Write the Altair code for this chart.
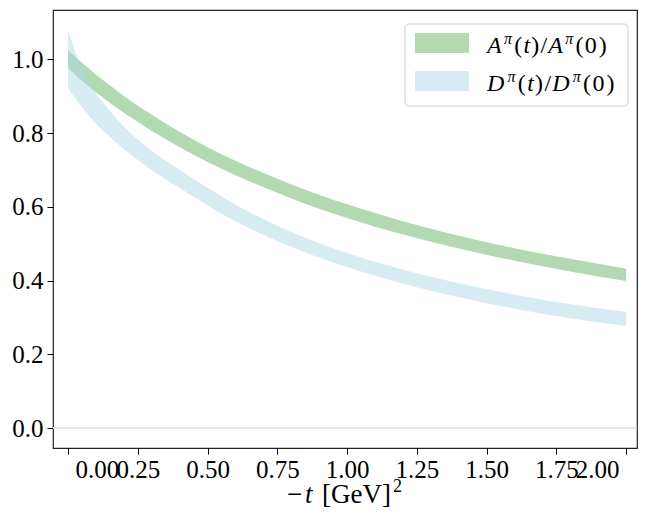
import altair as alt
import pandas as pd

# ---- data ----
t_vals = [0.0, 0.025, 0.05, 0.075, 0.1, 0.15, 0.2, 0.3, 0.4, 0.5, 0.6, 0.8, 1.0, 1.2, 1.4, 1.6, 1.8, 2.0]
A_upper = [1.025, 1.008, 0.991, 0.975, 0.959, 0.930, 0.901, 0.850, 0.804, 0.762, 0.725, 0.661, 0.607, 0.561, 0.522, 0.488, 0.459, 0.432]
A_lower = [0.975, 0.959, 0.942, 0.926, 0.911, 0.882, 0.855, 0.806, 0.762, 0.722, 0.686, 0.623, 0.570, 0.525, 0.487, 0.454, 0.425, 0.399]
D_upper = [1.079, 1.022, 0.975, 0.938, 0.908, 0.860, 0.818, 0.752, 0.700, 0.652, 0.606, 0.532, 0.475, 0.430, 0.393, 0.362, 0.336, 0.315]
D_lower = [0.921, 0.895, 0.870, 0.847, 0.826, 0.790, 0.757, 0.700, 0.651, 0.604, 0.561, 0.491, 0.437, 0.392, 0.355, 0.324, 0.298, 0.277]
x_ticks = [0.0, 0.25, 0.5, 0.75, 1.0, 1.25, 1.5, 1.75, 2.0]
y_ticks = [0.0, 0.2, 0.4, 0.6, 0.8, 1.0]
zero_line = [0.0]

W, H = 584, 438
SERIF = "Liberation Serif"
GREEN = "#008000"
BLUE = "#add8e6"

xscale = alt.Scale(domain=[-0.054, 2.039], nice=False, zero=False)
yscale = alt.Scale(domain=[-0.054, 1.134], nice=False, zero=False)

xaxis = alt.Axis(values=x_ticks, format=".2f", title=None, grid=False, domain=False,
                 tickColor="black", tickSize=6, tickWidth=1, labelFont=SERIF, labelFontSize=25,
                 labelColor="black", labelPadding=3, labelFlush=20, labelFlushOffset=-7,
                 labelOverlap=False)
yaxis = alt.Axis(values=y_ticks, format=".1f", title=None, grid=False, domain=False,
                 tickColor="black", tickSize=6, tickWidth=1, labelFont=SERIF, labelFontSize=25,
                 labelColor="black", labelPadding=4, labelFlush=False, labelOverlap=False)

dfA = pd.DataFrame({"t": t_vals, "lo": A_lower, "hi": A_upper})
dfD = pd.DataFrame({"t": t_vals, "lo": D_lower, "hi": D_upper})

rule = alt.Chart(pd.DataFrame({"y": zero_line})).mark_rule(color="#e4e4e4", strokeWidth=2).encode(
    y=alt.Y("y:Q", scale=yscale, axis=yaxis), x=alt.value(0), x2=alt.value(W))

areaA = alt.Chart(dfA).mark_area(color=GREEN, opacity=0.3, interpolate="monotone").encode(
    x=alt.X("t:Q", scale=xscale, axis=xaxis),
    y=alt.Y("hi:Q", scale=yscale, axis=yaxis),
    y2="lo:Q")
areaD = alt.Chart(dfD).mark_area(color=BLUE, opacity=0.5, interpolate="monotone").encode(
    x=alt.X("t:Q", scale=xscale, axis=xaxis),
    y=alt.Y("hi:Q", scale=yscale, axis=yaxis),
    y2="lo:Q")

one = pd.DataFrame({"a": [0]})
layers = [rule, areaA, areaD]

# legend box and swatches
layers.append(alt.Chart(one).mark_rect(fill="white", fillOpacity=0.8, stroke="#cccccc",
                                       strokeWidth=1, cornerRadius=4).encode(
    x=alt.value(352), x2=alt.value(575), y=alt.value(14), y2=alt.value(96)))
layers.append(alt.Chart(one).mark_rect(color=GREEN, opacity=0.3).encode(
    x=alt.value(362), x2=alt.value(416), y=alt.value(23), y2=alt.value(43)))
layers.append(alt.Chart(one).mark_rect(color=BLUE, opacity=0.5).encode(
    x=alt.value(362), x2=alt.value(416), y=alt.value(61), y2=alt.value(81)))

EM = {("A", True): 0.611, ("D", True): 0.722, ("t", True): 0.278, ("π", True): 0.55,
      ("(", False): 0.333, (")", False): 0.333, ("/", False): 0.278, ("0", False): 0.5}


def text_run(pieces, x0, x1, base):
    # pieces: (text, italic, size, raise)
    widths = [EM[(p[0], p[1])] * p[2] for p in pieces]
    nat = sum(widths)
    k = (x1 - x0) / nat
    out = []
    x = x0
    for (txt, it, size, rz), w in zip(pieces, widths):
        out.append(alt.Chart(pd.DataFrame({"s": [txt]})).mark_text(
            font=SERIF, fontSize=size, fontStyle="italic" if it else "normal",
            align="left", baseline="alphabetic", color="black").encode(
            text="s:N", x=alt.value(x), y=alt.value(base - rz)))
        x += w * k
    return out


def label_pieces(L):
    return [(L, True, 24, 0), ("π", True, 16, 9), ("(", False, 24, 0), ("t", True, 24, 0),
            (")", False, 24, 0), ("/", False, 24, 0), (L, True, 24, 0), ("π", True, 16, 9),
            ("(", False, 24, 0), ("0", False, 24, 0), (")", False, 24, 0)]


layers += text_run(label_pieces("A"), 434, 555, 43)
layers += text_run(label_pieces("D"), 434, 563, 81)

# x axis title: −t [GeV]^2
for txt, it, size, xx, yy in [("−", False, 27, 234, 493), ("t", True, 27, 252, 493),
                              ("[GeV]", False, 27, 269, 493), ("2", False, 18, 340, 482)]:
    layers.append(alt.Chart(pd.DataFrame({"s": [txt]})).mark_text(
        font=SERIF, fontSize=size, fontStyle="italic" if it else "normal",
        align="left", baseline="alphabetic", color="black").encode(
        text="s:N", x=alt.value(xx), y=alt.value(yy)))

chart = alt.layer(*layers).properties(
    width=W, height=H,
    padding={"left": 45, "top": 2, "right": 7, "bottom": 61},
    autosize=alt.AutoSizeParams(type="none"),
    background="white",
).configure_view(stroke="#222222", strokeWidth=1.2)

chart.save("out.html", embed_options={"renderer": "svg", "actions": False})
